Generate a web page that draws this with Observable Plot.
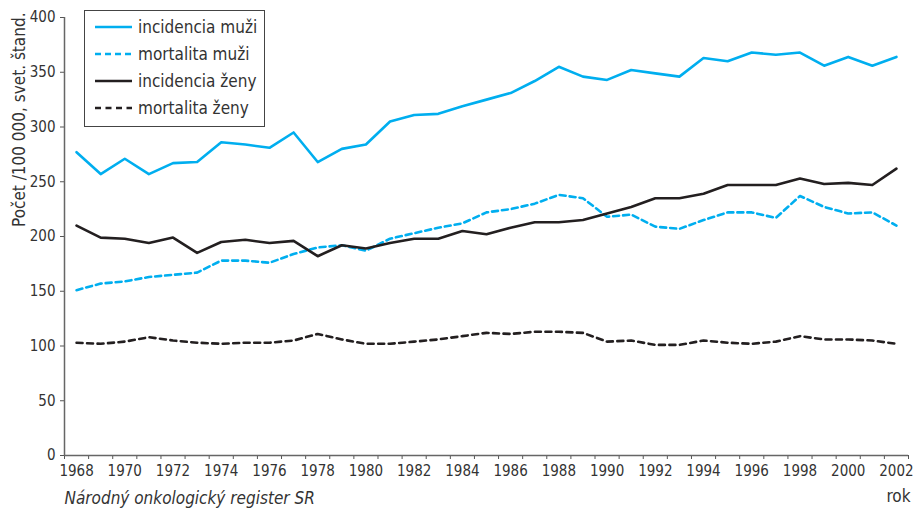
<!DOCTYPE html>
<html>
<head>
<meta charset="utf-8">
<script src="https://cdn.jsdelivr.net/npm/d3@7"></script>
<script src="https://cdn.jsdelivr.net/npm/@observablehq/plot@0.6"></script>
<style>
  html, body { margin: 0; padding: 0; background: #fff; }
  #wrap { position: relative; width: 917px; height: 512px; font-family: "Liberation Sans Narrow", "Arial Narrow", "DejaVu Sans Condensed", sans-serif; }
  #legend { position: absolute; left: 84px; top: 10px; width: 179px; height: 115px; border: 1px solid #444; background: #fff; }
  .row { position: absolute; left: 0; height: 20px; display: flex; align-items: center; }
  .row span { font-size: 17px; color: #333; margin-left: 6px; }
</style>
</head>
<body>
<div id="wrap"></div>
<script>
const years = [1968,1969,1970,1971,1972,1973,1974,1975,1976,1977,1978,1979,1980,1981,1982,1983,1984,1985,1986,1987,1988,1989,1990,1991,1992,1993,1994,1995,1996,1997,1998,1999,2000,2001,2002];
const labelYears = [1968,1970,1972,1974,1976,1978,1980,1982,1984,1986,1988,1990,1992,1994,1996,1998,2000,2002];
const yTicks = [0,50,100,150,200,250,300,350,400];

const incidenciaMuzi = [277,257,271,257,267,268,286,284,281,295,268,280,284,305,311,312,319,325,331,342,355,346,343,352,349,346,363,360,368,366,368,356,364,356,364];
const mortalitaMuzi  = [151,157,159,163,165,167,178,178,176,184,190,192,187,198,203,208,212,222,225,230,238,235,218,220,209,207,215,222,222,217,237,227,221,222,210];
const incidenciaZeny = [210,199,198,194,199,185,195,197,194,196,182,192,189,194,198,198,205,202,208,213,213,215,221,227,235,235,239,247,247,247,253,248,249,247,262];
const mortalitaZeny  = [103,102,104,108,105,103,102,103,103,105,111,106,102,102,104,106,109,112,111,113,113,112,104,105,101,101,105,103,102,104,109,106,106,105,102];

const seriesNames = ["incidencia muži", "mortalita muži", "incidencia ženy", "mortalita ženy"];
const seriesColors = ["#00aeef", "#00aeef", "#231f20", "#231f20"];
const seriesDash = [null, "6,4", null, "6,4.5"];
const seriesValues = [incidenciaMuzi, mortalitaMuzi, incidenciaZeny, mortalitaZeny];

const yTitle = "Počet /100 000, svet. štand.";
const caption = "Národný onkologický register SR";
const xTitle = "rok";

const boundaries = years.map(y => y - 0.5).concat([years[years.length - 1] + 0.5]);

const lineMarks = seriesValues.map((vals, i) =>
  Plot.lineY(vals.map((v, j) => ({year: years[j], value: v})), {
    x: "year", y: "value",
    stroke: seriesColors[i], strokeWidth: 2.6,
    strokeDasharray: seriesDash[i] || undefined
  })
);

const chart = Plot.plot({
  width: 917, height: 512,
  marginLeft: 64, marginRight: 9, marginTop: 17, marginBottom: 57,
  style: { fontFamily: '"Liberation Sans Narrow", "Arial Narrow", "DejaVu Sans Condensed", sans-serif', fontSize: "15px", color: "#333", background: "#fff" },
  x: { type: "linear", domain: [boundaries[0], boundaries[boundaries.length - 1]] },
  y: { domain: [0, 400] },
  marks: [
    Plot.axisY({ ticks: yTicks, tickSize: 4, tickPadding: 5, label: null, stroke: "#555", fontSize: 15 }),
    Plot.axisX({ ticks: boundaries, tickSize: 4, tickFormat: () => "", label: null, stroke: "#555" }),
    Plot.axisX({ ticks: labelYears, tickSize: 0, tickPadding: 10, tickFormat: d => String(d), label: null, fontSize: 15 }),
    Plot.ruleY([0], { stroke: "#666", strokeWidth: 1.5 }),
    Plot.ruleX([boundaries[0]], { stroke: "#666", strokeWidth: 1.5 }),
    ...lineMarks,
    Plot.text([yTitle], { frameAnchor: "top-left", rotate: -90, textAnchor: "end", dx: -52, dy: -5, fontSize: 17, fill: "#333" }),
    Plot.text([caption], { frameAnchor: "bottom-left", textAnchor: "start", dx: 0, dy: 48, fontSize: 17, fontStyle: "italic", fill: "#333" }),
    Plot.text([xTitle], { frameAnchor: "bottom-right", textAnchor: "end", dx: 2, dy: 46, fontSize: 17, fill: "#333" })
  ]
});

const wrap = document.getElementById("wrap");
wrap.appendChild(chart);

const legend = document.createElement("div");
legend.id = "legend";
const rowTops = [6, 33, 60, 87];
seriesNames.forEach((name, i) => {
  const row = document.createElement("div");
  row.className = "row";
  row.style.top = rowTops[i] + "px";
  row.style.left = "10px";
  const dash = seriesDash[i] ? `stroke-dasharray="${seriesDash[i]}"` : "";
  row.innerHTML = `<svg width="37" height="20"><line x1="0" x2="37" y1="10" y2="10" stroke="${seriesColors[i]}" stroke-width="2.6" ${dash}/></svg><span>${name}</span>`;
  legend.appendChild(row);
});
wrap.appendChild(legend);
</script>
</body>
</html>
